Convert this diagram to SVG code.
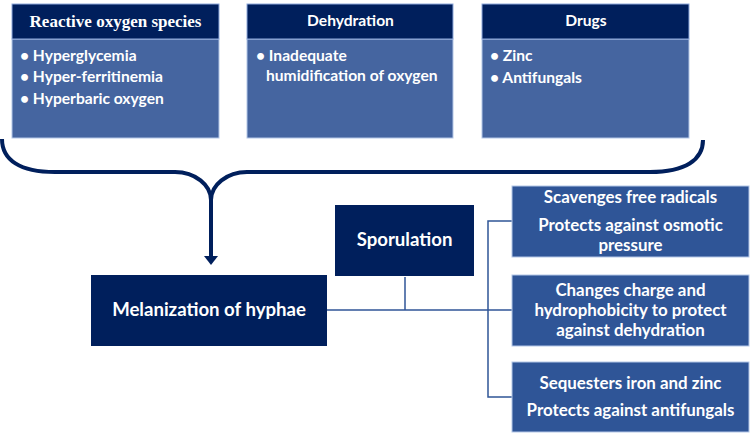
<svg xmlns="http://www.w3.org/2000/svg" width="752" height="434" viewBox="0 0 752 434">
<defs>
<style>
.hdr{fill:#001f5c;stroke:#8faadc;stroke-width:1}
.body{fill:#4565a0;stroke:#b4c7e7;stroke-width:1}
.dark{fill:#001f5c}
.rbox{fill:#2f5597;stroke:#b4c7e7;stroke-width:1}
text{fill:#fff;font-family:Lato,"Open Sans",sans-serif;font-weight:bold}
.t15{font-size:15.6px}
.t17{font-size:16.9px}
.c{text-anchor:middle}
.ln{fill:none;stroke:#2f5597;stroke-width:1.5}
.brace{fill:none;stroke:#001f5c;stroke-width:4}
</style>
</defs>
<rect width="752" height="434" fill="#fff"/>

<g id="ros">
<rect class="body" x="12" y="39" width="207" height="99"/>
<rect class="hdr" x="12" y="4" width="207" height="35"/>
<text class="c" x="115.5" y="27" style="font-family:'Liberation Serif',serif;font-size:17px">Reactive oxygen species</text>
<text class="t15" x="20" y="61">• Hyperglycemia</text>
<text class="t15" x="20" y="82">• Hyper-ferritinemia</text>
<text class="t15" x="20" y="104">• Hyperbaric oxygen</text>
</g>

<g id="dehydration">
<rect class="body" x="247" y="39" width="206" height="99"/>
<rect class="hdr" x="247" y="4" width="206" height="35"/>
<text class="c" x="350.5" y="26" style="font-size:15.6px">Dehydration</text>
<text class="t15" x="256" y="61">• Inadequate</text>
<text class="t15" x="266" y="81">humidification of oxygen</text>
</g>

<g id="drugs">
<rect class="body" x="482" y="39" width="207" height="99"/>
<rect class="hdr" x="482" y="4" width="207" height="35"/>
<text class="c" x="586" y="26" style="font-size:15.6px">Drugs</text>
<text class="t15" x="490" y="61">• Zinc</text>
<text class="t15" x="490" y="83">• Antifungals</text>
</g>

<g id="connectors">
<path class="brace" d="M2,139 C2,160 20,172 55,172 L175,172 C195,172 211,185 211,200 C211,185 227,172 247,172 L650,172 C685,172 703,160 703,140"/>
<line x1="211" y1="200" x2="211" y2="258" stroke="#001f5c" stroke-width="4"/>
<polygon points="204,256 218,256 211,265" fill="#001f5c"/>
<line class="ln" x1="327" y1="310" x2="512" y2="310"/>
<line class="ln" x1="405" y1="277" x2="405" y2="310"/>
<polyline class="ln" points="512,221 488,221 488,397 512,397"/>
</g>

<g id="sporulation">
<rect class="dark" x="335" y="205" width="139" height="71"/>
<text class="c" x="404.5" y="246" style="font-size:18.6px">Sporulation</text>
</g>

<g id="melanization">
<rect class="dark" x="91" y="275" width="236" height="71"/>
<text class="c" x="209" y="316" style="font-size:18.6px">Melanization of hyphae</text>
</g>

<g id="effect1">
<rect class="rbox" x="512" y="186" width="237" height="71"/>
<text class="c t17" x="630.5" y="203">Scavenges free radicals</text>
<text class="c t17" x="630.5" y="231">Protects against osmotic</text>
<text class="c t17" x="630.5" y="251">pressure</text>
</g>

<g id="effect2">
<rect class="rbox" x="512" y="275" width="237" height="71"/>
<text class="c t17" x="630.5" y="296">Changes charge and</text>
<text class="c t17" x="630.5" y="316">hydrophobicity to protect</text>
<text class="c t17" x="630.5" y="336">against dehydration</text>
</g>

<g id="effect3">
<rect class="rbox" x="512" y="362" width="237" height="70"/>
<text class="c t17" x="630.5" y="389">Sequesters iron and zinc</text>
<text class="c t17" x="630.5" y="416">Protects against antifungals</text>
</g>
</svg>
